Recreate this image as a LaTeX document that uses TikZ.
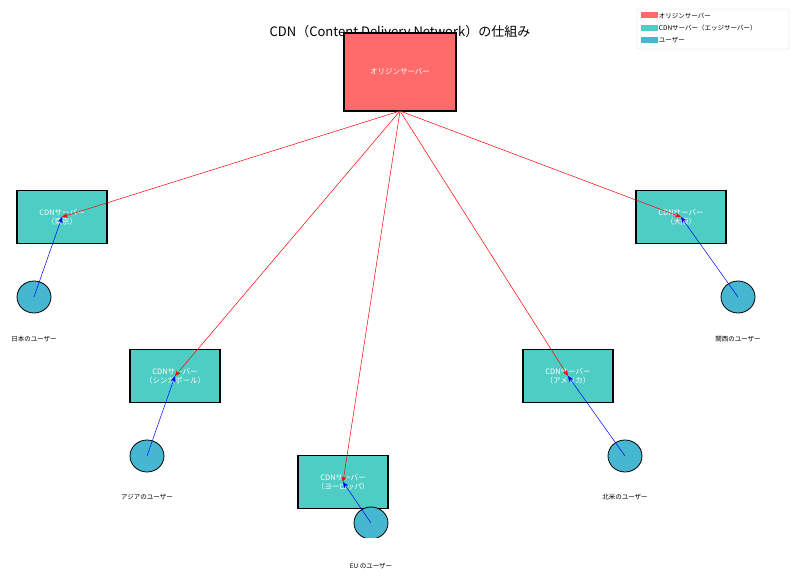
\documentclass[tikz,border=0pt]{standalone}
\usepackage{fontspec}
\setmainfont{Noto Sans CJK JP}
\usetikzlibrary{arrows.meta}
\definecolor{origincol}{HTML}{FF6B6B}
\definecolor{cdncol}{HTML}{4ECDC4}
\definecolor{usercol}{HTML}{45B7D1}
\tikzset{
  server/.style={draw=black,line width=1.2pt,fill=cdncol,minimum width=90pt,minimum height=53pt,
    text=white,font=\fontsize{7.5}{9}\selectfont,align=center},
  user/.style={draw=black,line width=0.8pt,fill=usercol,ellipse,minimum width=34pt,minimum height=32pt},
  ulabel/.style={font=\fontsize{6.5}{8}\selectfont},
  pull/.style={red,line width=0.5pt,-{Stealth[length=6pt,width=5pt]}},
  ask/.style={blue,line width=0.5pt,-{Stealth[length=6pt,width=5pt]}}
}
\usetikzlibrary{shapes.geometric}
\begin{document}
\begin{tikzpicture}[x=1pt,y=-1pt]
\useasboundingbox (0,0) rectangle (800,577);
\node at (400,32) {\fontsize{13}{15}\selectfont CDN（Content Delivery Network）の仕組み};
% origin
\node (origin) [draw=black,line width=1.2pt,fill=origincol,minimum width=112pt,minimum height=78pt,
  text=white,font=\fontsize{7.5}{9}\selectfont] at (400,72) {オリジンサーバー};
\coordinate (src) at (400,111);
% edge servers
\node (tokyo) [server] at (62,217) {CDNサーバー\\（東京）};
\node (osaka) [server] at (681,217) {CDNサーバー\\（大阪）};
\node (sing) [server] at (175,376) {CDNサーバー\\（シンガポール）};
\node (amer) [server] at (568,376) {CDNサーバー\\（アメリカ）};
\node (euro) [server] at (343,482) {CDNサーバー\\（ヨーロッパ）};
% users
\node (ujp) [user] at (34,297) {};
\node (uks) [user] at (738,297) {};
\node (uas) [user] at (147,456) {};
\node (una) [user] at (625,456) {};
\begin{scope}
\clip (300,500) rectangle (420,537);
\node (ueu) [user] at (371,523) {};
\end{scope}
\node [ulabel] at (34,339) {日本のユーザー};
\node [ulabel] at (738,339) {関西のユーザー};
\node [ulabel] at (147,497) {アジアのユーザー};
\node [ulabel] at (625,497) {北米のユーザー};
\node [ulabel] at (371,566) {EU のユーザー};
% connections
\foreach \s in {tokyo,osaka,sing,amer,euro}
  \draw [pull] (src) -- (\s.center);
\draw [ask] (ujp.center) -- (tokyo.center);
\draw [ask] (uks.center) -- (osaka.center);
\draw [ask] (uas.center) -- (sing.center);
\draw [ask] (una.center) -- (amer.center);
\draw [ask] (ueu.center) -- (euro.center);
% legend
\node (legend) [draw=black!15,fill=white,rounded corners=2pt,minimum width=152pt,minimum height=40pt] at (713,29) {};
\foreach \c/\t [count=\i] in {origincol/オリジンサーバー,cdncol/CDNサーバー（エッジサーバー）,usercol/ユーザー}
  \node [fill=\c,minimum width=17pt,minimum height=6pt,inner sep=0pt,
    label={[font=\fontsize{6.5}{8}\selectfont,inner sep=1pt]right:\t}] at (649,3+\i*12.5) {};
\end{tikzpicture}
\end{document}
